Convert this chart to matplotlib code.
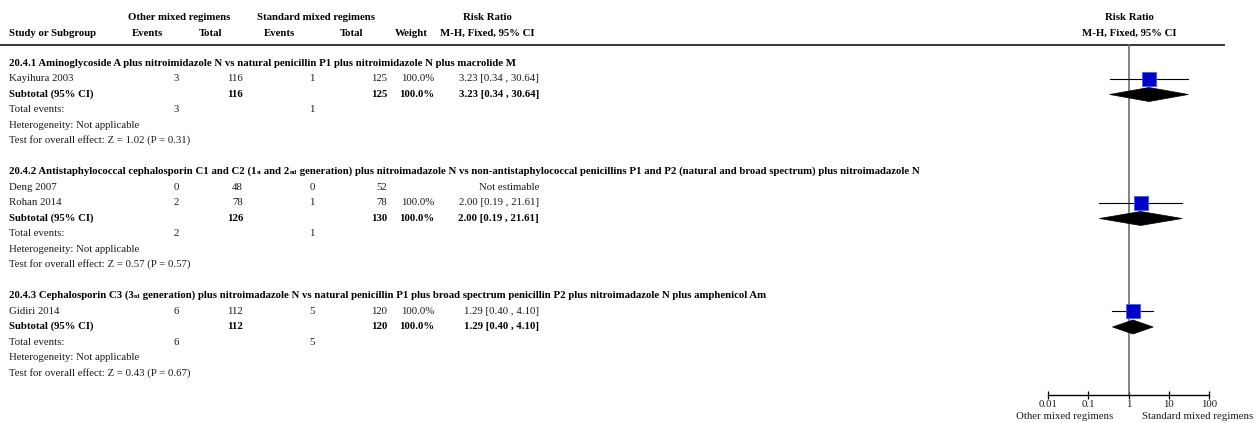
import matplotlib
matplotlib.use("Agg")
import matplotlib.pyplot as plt
from matplotlib.patches import Polygon

# ---------------- data ----------------
group_titles = [
    [("20.4.1 Aminoglycoside A plus nitroimidazole N vs natural penicillin P1 plus nitroimidazole N plus macrolide M", 1.0)],
    [("20.4.2 Antistaphylococcal cephalosporin C1 and C2 (1", 1.0), ("st", 0.6), (" and 2", 1.0), ("nd", 0.6),
     (" generation) plus nitroimadazole N vs non-antistaphylococcal penicillins P1 and P2 (natural and broad spectrum) plus nitroimadazole N", 1.0)],
    [("20.4.3 Cephalosporin C3 (3", 1.0), ("rd", 0.6),
     (" generation) plus nitroimadazole N vs natural penicillin P1 plus broad spectrum penicillin P2 plus nitroimadazole N plus amphenicol Am", 1.0)],
]
study_names = [["Kayihura 2003"], ["Deng 2007", "Rohan 2014"], ["Gidiri 2014"]]
other_events = [[3], [0, 2], [6]]
other_total = [[116], [48, 78], [112]]
std_events = [[1], [0, 1], [5]]
std_total = [[125], [52, 78], [120]]
weights = [[100.0], [None, 100.0], [100.0]]
study_rr = [[3.23], [None, 2.00], [1.29]]
study_lo = [[0.34], [None, 0.19], [0.40]]
study_hi = [[30.64], [None, 21.61], [4.10]]

sub_other_total = [116, 126, 112]
sub_std_total = [125, 130, 120]
sub_weight = [100.0, 100.0, 100.0]
sub_rr = [3.23, 2.00, 1.29]
sub_lo = [0.34, 0.19, 0.40]
sub_hi = [30.64, 21.61, 4.10]
tot_other_events = [3, 2, 6]
tot_std_events = [1, 1, 5]
z_values = [1.02, 0.57, 0.43]
p_values = [0.31, 0.57, 0.67]

axis_ticks = [0.01, 0.1, 1, 10, 100]
axis_tick_labels = ["0.01", "0.1", "1", "10", "100"]
left_label = "Other mixed regimens"
right_label = "Standard mixed regimens"

# ---------------- layout ----------------
W, H = 1258, 423
FS = 7.75
FAM = ["Liberation Serif", "DejaVu Serif"]
TXT = "#1a1a1a"
plt.rcParams["font.family"] = FAM

fig = plt.figure(figsize=(W / 100, H / 100), dpi=100)
ax = fig.add_axes([0, 0, 1, 1])
ax.set_xlim(0, W)
ax.set_ylim(H, 0)
ax.axis("off")

fx0, fx1 = 1048, 1209
axf = fig.add_axes([fx0 / W, 0, (fx1 - fx0) / W, 1])
axf.set_xscale("log")
axf.set_xlim(0.01, 100)
axf.set_ylim(H, 0)
axf.patch.set_visible(False)

row0, dy = 63.5, 15.5
BOFF = 2.2  # baseline offset from row centre

c_ev1, c_tot1, c_ev2, c_tot2, c_w, c_ci = 176, 243, 312, 387, 434, 539


def t(x, y, s, ha="left", bold=False, size=FS, color=None):
    return ax.text(x, y + BOFF, s, ha=ha, va="baseline", fontsize=size,
                   fontweight="bold" if bold else "normal",
                   color=color if color else ("black" if bold else TXT))


# header
ax.text(179, 20, "Other mixed regimens", ha="center", va="baseline", fontsize=FS, fontweight="bold")
ax.text(316, 20, "Standard mixed regimens", ha="center", va="baseline", fontsize=FS, fontweight="bold")
ax.text(487, 20, "Risk Ratio", ha="center", va="baseline", fontsize=FS, fontweight="bold")
ax.text(1129, 20, "Risk Ratio", ha="center", va="baseline", fontsize=FS, fontweight="bold")
for x, s in [(9, "Study or Subgroup"), (147, "Events"), (211, "Total"), (279, "Events"),
             (352, "Total"), (411, "Weight"), (487, "M-H, Fixed, 95% CI"), (1129, "M-H, Fixed, 95% CI")]:
    ax.text(x, 35.5, s, ha="left" if x == 9 else "center", va="baseline", fontsize=FS, fontweight="bold")
ax.plot([0, 1225], [45.5, 45.5], color="black", lw=1.1, solid_capstyle="butt")

renderer = fig.canvas.get_renderer()


def rich(x, y, pieces):
    cur = x
    for s, scale in pieces:
        tt = ax.text(cur, y + BOFF, s, ha="left", va="baseline", fontsize=FS * scale,
                     fontweight="bold", color="black")
        bb = tt.get_window_extent(renderer)
        cur += bb.width


def fmt_ci(r, l, h):
    return f"{r:.2f} [{l:.2f} , {h:.2f}]"


row = 0
for g in range(3):
    y = row0 + row * dy
    rich(9, y, group_titles[g])
    row += 1
    for k, name in enumerate(study_names[g]):
        y = row0 + row * dy
        t(9, y, name)
        t(c_ev1, y, str(other_events[g][k]), ha="center")
        t(c_tot1, y, str(other_total[g][k]), ha="right")
        t(c_ev2, y, str(std_events[g][k]), ha="center")
        t(c_tot2, y, str(std_total[g][k]), ha="right")
        if study_rr[g][k] is None:
            t(c_ci, y, "Not estimable", ha="right")
        else:
            t(c_w, y, f"{weights[g][k]:.1f}%", ha="right")
            t(c_ci, y, fmt_ci(study_rr[g][k], study_lo[g][k], study_hi[g][k]), ha="right")
            axf.plot([study_lo[g][k], study_hi[g][k]], [y, y], color="black", lw=0.8, zorder=3)
            axf.plot([study_rr[g][k]], [y], marker="s", ms=9.8, mfc="#0000cc", mec="#4a5ae0",
                     mew=0.6, ls="none", zorder=4)
        row += 1
    # subtotal
    y = row0 + row * dy
    t(9, y, "Subtotal (95% CI)", bold=True)
    t(c_tot1, y, str(sub_other_total[g]), ha="right", bold=True)
    t(c_tot2, y, str(sub_std_total[g]), ha="right", bold=True)
    t(c_w, y, f"{sub_weight[g]:.1f}%", ha="right", bold=True)
    t(c_ci, y, fmt_ci(sub_rr[g], sub_lo[g], sub_hi[g]), ha="right", bold=True)
    hh = 7.0
    axf.add_patch(Polygon([(sub_lo[g], y), (sub_rr[g], y - hh), (sub_hi[g], y), (sub_rr[g], y + hh)],
                          closed=True, facecolor="black", edgecolor="black", lw=0.5, zorder=4))
    row += 1
    y = row0 + row * dy
    t(9, y, "Total events:")
    t(c_ev1, y, str(tot_other_events[g]), ha="center")
    t(c_ev2, y, str(tot_std_events[g]), ha="center")
    row += 1
    y = row0 + row * dy
    t(9, y, "Heterogeneity: Not applicable")
    row += 1
    y = row0 + row * dy
    t(9, y, f"Test for overall effect: Z = {z_values[g]:.2f} (P = {p_values[g]:.2f})")
    row += 2

# forest axis
axis_y = 395
axf.plot([1, 1], [45.5, axis_y], color="#6e6e6e", lw=1.2, zorder=2)
for s in ["top", "left", "right"]:
    axf.spines[s].set_visible(False)
axf.spines["bottom"].set_position(("data", axis_y))
axf.spines["bottom"].set_linewidth(1.0)
axf.set_yticks([])
axf.set_xticks(axis_ticks)
axf.set_xticklabels(axis_tick_labels)
axf.minorticks_off()
axf.tick_params(axis="x", direction="inout", length=6, width=0.9, pad=0.5,
                labelsize=FS, labelcolor=TXT)
for lab in axf.get_xticklabels():
    lab.set_fontfamily(FAM)

ax.text(1065, 419, left_label, ha="center", va="baseline", fontsize=FS, color=TXT)
ax.text(1198, 419, right_label, ha="center", va="baseline", fontsize=FS, color=TXT)

fig.savefig("out.png", dpi=100, facecolor="white")
